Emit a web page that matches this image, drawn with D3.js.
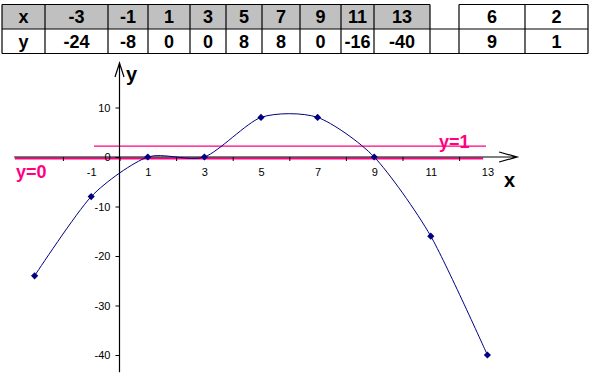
<!DOCTYPE html>
<html>
<head>
<meta charset="utf-8">
<script src="https://cdn.jsdelivr.net/npm/d3@7"></script>
<style>
  body { margin: 0; background: #fff; }
  svg { display: block; }
  text { font-family: Arial, "Liberation Sans", sans-serif; }
</style>
</head>
<body>
<div id="chart"></div>
<script>
// table + plotted points
var xValues = [-3, -1, 1, 3, 5, 7, 9, 11, 13];
var yValues = [-24, -8, 0, 0, 8, 8, 0, -16, -40];
// the small extra table on the right
var xExtra = [6, 2];
var yExtra = [9, 1];
// axis ticks
var xTickLabels = [-1, 1, 3, 5, 7, 9, 11, 13];
var xTickMarks = [-2, 0, 2, 4, 6, 8, 10, 12];
var yTickValues = [-40, -30, -20, -10, 0, 10];
// pink reference lines, level (data units)
var refLabels = ["y=0", "y=1"];
var refLevels = [-0.3, 2.2];
var refFrom = [-3.7, -0.9];
var refTo = [12.85, 12.95];

var full_width = 592, full_height = 382;
var navy = "#000080", pink = "#ff0080";

var svg = d3.select("#chart")
  .append("svg")
    .attr("width", full_width)
    .attr("height", full_height);

// ---- table ----
var colEdges = [2, 45, 108, 148, 190, 226, 262, 300, 341, 374, 430];
var extraEdges = [459, 525, 588];
var rowTop = 4.5, rowMid = 29, rowBot = 53.5;

var table = svg.append("g");

table.append("rect")
  .attr("x", colEdges[0]).attr("y", rowTop)
  .attr("width", colEdges[colEdges.length - 1] - colEdges[0])
  .attr("height", rowMid - rowTop)
  .attr("fill", "#c0c0c0");

function hline(x1, x2, yy) {
  table.append("line")
    .attr("x1", x1).attr("x2", x2).attr("y1", yy).attr("y2", yy)
    .attr("stroke", "#000").attr("stroke-width", 1.2);
}
function vline(xx) {
  table.append("line")
    .attr("x1", xx).attr("x2", xx).attr("y1", rowTop).attr("y2", rowBot)
    .attr("stroke", "#000").attr("stroke-width", 1.2);
}
hline(colEdges[0], colEdges[colEdges.length - 1], rowTop);
hline(extraEdges[0], extraEdges[2], rowTop);
hline(colEdges[0], extraEdges[2], rowMid);
hline(colEdges[0], extraEdges[2], rowBot);
colEdges.forEach(vline);
extraEdges.forEach(vline);

var topCells = ["x"].concat(xValues).concat(xExtra);
var botCells = ["y"].concat(yValues).concat(yExtra);
var centers = [];
for (var i = 0; i < colEdges.length - 1; i++) centers.push((colEdges[i] + colEdges[i + 1]) / 2);
centers.push((extraEdges[0] + extraEdges[1]) / 2, (extraEdges[1] + extraEdges[2]) / 2);

table.selectAll(".top")
  .data(topCells)
  .enter().append("text")
    .attr("x", (d, i) => centers[i])
    .attr("y", 23)
    .attr("text-anchor", "middle")
    .style("font-size", "18px").style("font-weight", "bold")
    .text(d => d);
table.selectAll(".bot")
  .data(botCells)
  .enter().append("text")
    .attr("x", (d, i) => centers[i])
    .attr("y", 47.5)
    .attr("text-anchor", "middle")
    .style("font-size", "18px").style("font-weight", "bold")
    .text(d => d);

// ---- chart ----
var x = d3.scaleLinear().domain([-3, 13]).range([34.6, 487.4]);
var y = d3.scaleLinear().domain([-40, 10]).range([355, 107.5]);
var xAxisExtent = [-3.72, 14.05];
var yAxisExtent = [-43.5, 19];
var plain = d => String(d);   // hyphen minus, like the original

// pink reference lines
refLevels.forEach(function(lv, i) {
  svg.append("line")
    .attr("x1", x(refFrom[i])).attr("x2", x(refTo[i]))
    .attr("y1", y(lv)).attr("y2", y(lv))
    .attr("stroke", pink)
    .attr("stroke-width", i == 0 ? 2 : 1.3);
});

// x axis: tick marks between the labels
var xAx = svg.append("g")
  .attr("transform", "translate(0," + y(0) + ")");
xAx.call(d3.axisBottom(x).tickValues(xTickMarks).tickSize(4).tickFormat(""));
xAx.select(".domain").remove();

var xLab = svg.append("g")
  .attr("transform", "translate(0," + y(0) + ")");
xLab.call(d3.axisBottom(x).tickValues(xTickLabels).tickSize(0).tickPadding(11).tickFormat(plain));
xLab.select(".domain").remove();
xLab.selectAll("text")
  .style("font-family", "Arial, 'Liberation Sans', sans-serif")
  .style("font-size", "11px").attr("fill", "#000");

// y axis
var yAx = svg.append("g")
  .attr("transform", "translate(" + x(0) + ",0)");
yAx.call(d3.axisLeft(y).tickValues(yTickValues).tickSize(4).tickPadding(5).tickFormat(plain));
yAx.select(".domain").remove();
yAx.selectAll("text")
  .style("font-family", "Arial, 'Liberation Sans', sans-serif")
  .style("font-size", "11px").attr("fill", "#000");

// axis lines with open arrow heads
var x0 = x(xAxisExtent[0]), x1 = x(xAxisExtent[1]), yz = y(0);
svg.append("path")
  .attr("d", "M" + x0 + "," + yz + "H" + x1 +
             "M" + (x1 - 18) + "," + (yz - 5) + "L" + x1 + "," + yz + "L" + (x1 - 18) + "," + (yz + 5))
  .attr("fill", "none").attr("stroke", "#000").attr("stroke-width", 1.2);

var xz = x(0), yTop = y(yAxisExtent[1]), yBot = y(yAxisExtent[0]);
svg.append("path")
  .attr("d", "M" + xz + "," + yBot + "V" + yTop +
             "M" + (xz - 4.5) + "," + (yTop + 14) + "L" + xz + "," + yTop + "L" + (xz + 4.5) + "," + (yTop + 14))
  .attr("fill", "none").attr("stroke", "#000").attr("stroke-width", 1.2);

// axis names
svg.append("text").attr("x", 126).attr("y", 81)
  .style("font-size", "20px").style("font-weight", "bold").text("y");
svg.append("text").attr("x", 504).attr("y", 187)
  .style("font-size", "20px").style("font-weight", "bold").text("x");

// reference labels
svg.append("text").attr("x", 16).attr("y", 178)
  .attr("fill", pink).style("font-size", "18px").style("font-weight", "bold")
  .text(refLabels[0]);
svg.append("text").attr("x", 439).attr("y", 148)
  .attr("fill", pink).style("font-size", "18px").style("font-weight", "bold")
  .text(refLabels[1]);

// smoothed series
var points = xValues.map((v, i) => ({x: v, y: yValues[i]}));
var smoothLine = d3.line()
  .x(d => x(d.x))
  .y(d => y(d.y))
  .curve(d3.curveCardinal.tension(0.25));

svg.append("path")
  .attr("d", smoothLine(points))
  .attr("fill", "none")
  .attr("stroke", navy)
  .attr("stroke-width", 1);

svg.selectAll(".marker")
  .data(points)
  .enter().append("path")
    .attr("d", d3.symbol(d3.symbolSquare, 26))
    .attr("transform", d => "translate(" + x(d.x) + "," + y(d.y) + ") rotate(45)")
    .attr("fill", navy);
</script>
</body>
</html>
